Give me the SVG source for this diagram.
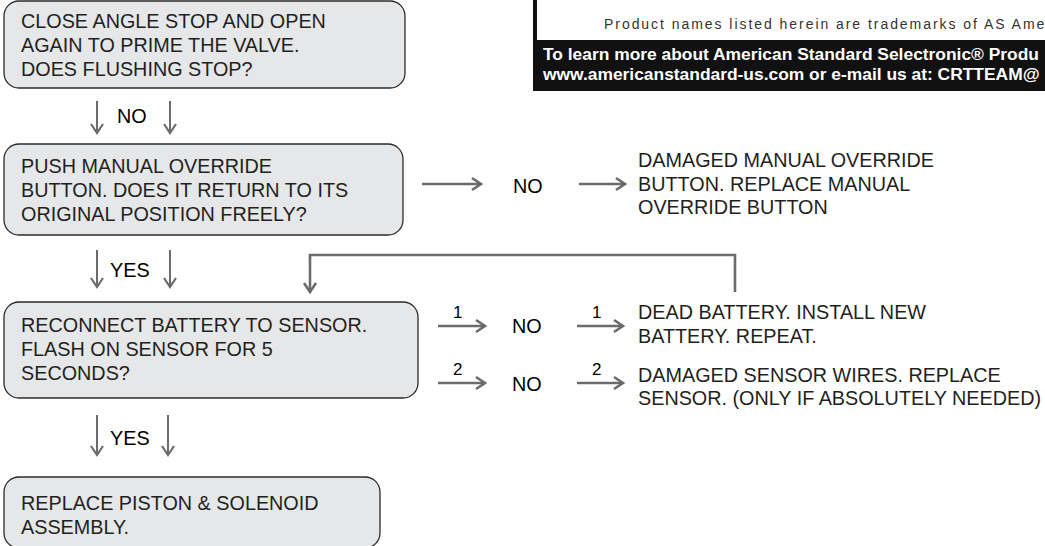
<svg xmlns="http://www.w3.org/2000/svg" width="1045" height="546" viewBox="0 0 1045 546">
<defs>
<style>
.box{fill:#e6e7e8;stroke:#2b2b2b;stroke-width:1.3}
.t{font-family:"Liberation Sans",Arial,Helvetica,sans-serif;font-size:19.8px;fill:#231f20}
.lbl{font-family:"Liberation Sans",Arial,Helvetica,sans-serif;font-size:19.8px;fill:#000}
.num{font-family:"Liberation Sans",Arial,Helvetica,sans-serif;font-size:17px;fill:#000}
.c{fill:none;stroke:#6b6b6b;stroke-width:2.6}
.cd{fill:none;stroke:#6b6b6b;stroke-width:2}
.prod{font-family:"Liberation Sans",Arial,sans-serif;font-size:14px;letter-spacing:1.95px;fill:#333}
.band{font-family:"Liberation Sans",Arial,sans-serif;font-size:17.4px;font-weight:bold;fill:#fff}
</style>
<marker id="ah" markerUnits="userSpaceOnUse" markerWidth="20" markerHeight="20" viewBox="-12 -10 14 20" refX="0" refY="0" orient="auto">
<path d="M-9,-6 L0,0 L-9,6" fill="none" stroke="#6b6b6b" stroke-width="2.6" stroke-linejoin="miter"/>
</marker>
<marker id="ahd" markerUnits="userSpaceOnUse" markerWidth="20" markerHeight="20" viewBox="-12 -10 14 20" refX="0" refY="0" orient="auto">
<path d="M-9,-6 L0,0 L-9,6" fill="none" stroke="#6b6b6b" stroke-width="2.2"/>
</marker>
</defs>
<rect width="1045" height="546" fill="#fff"/>

<g id="header">
<rect x="533" y="0" width="4" height="41" fill="#111"/>
<rect x="533" y="40" width="512" height="51" fill="#111"/>
<text class="prod" x="604" y="29">Product names listed herein are trademarks of AS Ame</text>
<text class="band" x="543" y="60">To learn more about American Standard Selectronic® Produ</text>
<text class="band" x="543" y="80">www.americanstandard-us.com or e-mail us at: CRTTEAM@</text>
</g>

<g id="node1">
<rect class="box" x="4" y="1" width="401" height="87" rx="15"/>
<text class="t" x="21" y="28">CLOSE ANGLE STOP AND OPEN</text>
<text class="t" x="21" y="52">AGAIN TO PRIME THE VALVE.</text>
<text class="t" x="21" y="76">DOES FLUSHING STOP?</text>
</g>

<g id="node2">
<rect class="box" x="4" y="144" width="399" height="91" rx="15"/>
<text class="t" x="21" y="172.5">PUSH MANUAL OVERRIDE</text>
<text class="t" x="21" y="196.5">BUTTON. DOES IT RETURN TO ITS</text>
<text class="t" x="21" y="220.5">ORIGINAL POSITION FREELY?</text>
</g>

<g id="node3">
<text class="t" x="638" y="167">DAMAGED MANUAL OVERRIDE</text>
<text class="t" x="638" y="191">BUTTON. REPLACE MANUAL</text>
<text class="t" x="638" y="214">OVERRIDE BUTTON</text>
</g>

<g id="node4">
<rect class="box" x="4" y="302" width="414" height="96" rx="15"/>
<text class="t" x="21" y="332">RECONNECT BATTERY TO SENSOR.</text>
<text class="t" x="21" y="356">FLASH ON SENSOR FOR 5</text>
<text class="t" x="21" y="380">SECONDS?</text>
</g>

<g id="node5">
<text class="t" x="638" y="319">DEAD BATTERY. INSTALL NEW</text>
<text class="t" x="638" y="343">BATTERY. REPEAT.</text>
</g>

<g id="node6">
<text class="t" x="638" y="382">DAMAGED SENSOR WIRES. REPLACE</text>
<text class="t" x="638" y="405">SENSOR. (ONLY IF ABSOLUTELY NEEDED)</text>
</g>

<g id="node7">
<rect class="box" x="4" y="477" width="376" height="71" rx="15"/>
<text class="t" x="21" y="510">REPLACE PISTON &amp; SOLENOID</text>
<text class="t" x="21" y="534">ASSEMBLY.</text>
</g>

<g id="connectors">
<line class="cd" x1="97" y1="101" x2="97" y2="133" marker-end="url(#ahd)"/>
<line class="cd" x1="170" y1="101" x2="170" y2="133" marker-end="url(#ahd)"/>
<text class="lbl" x="117" y="123">NO</text>

<line class="cd" x1="97" y1="250" x2="97" y2="287" marker-end="url(#ahd)"/>
<line class="cd" x1="170" y1="250" x2="170" y2="287" marker-end="url(#ahd)"/>
<text class="lbl" x="110" y="277">YES</text>

<line class="cd" x1="97" y1="415" x2="97" y2="455" marker-end="url(#ahd)"/>
<line class="cd" x1="168" y1="415" x2="168" y2="455" marker-end="url(#ahd)"/>
<text class="lbl" x="110" y="445">YES</text>

<line class="c" x1="422" y1="184" x2="481" y2="184" marker-end="url(#ah)"/>
<text class="lbl" x="513" y="193">NO</text>
<line class="c" x1="579" y1="184" x2="625" y2="184" marker-end="url(#ah)"/>

<polyline class="c" points="735,292 735,255 310,255 310,292" marker-end="url(#ah)"/>

<line class="c" x1="438" y1="326" x2="485" y2="326" marker-end="url(#ah)"/>
<text class="num" x="453" y="318">1</text>
<text class="lbl" x="512" y="333">NO</text>
<line class="c" x1="577" y1="326" x2="623" y2="326" marker-end="url(#ah)"/>
<text class="num" x="592" y="318">1</text>

<line class="c" x1="438" y1="383" x2="485" y2="383" marker-end="url(#ah)"/>
<text class="num" x="453" y="375">2</text>
<text class="lbl" x="512" y="391">NO</text>
<line class="c" x1="577" y1="383" x2="623" y2="383" marker-end="url(#ah)"/>
<text class="num" x="592" y="375">2</text>
</g>
</svg>
